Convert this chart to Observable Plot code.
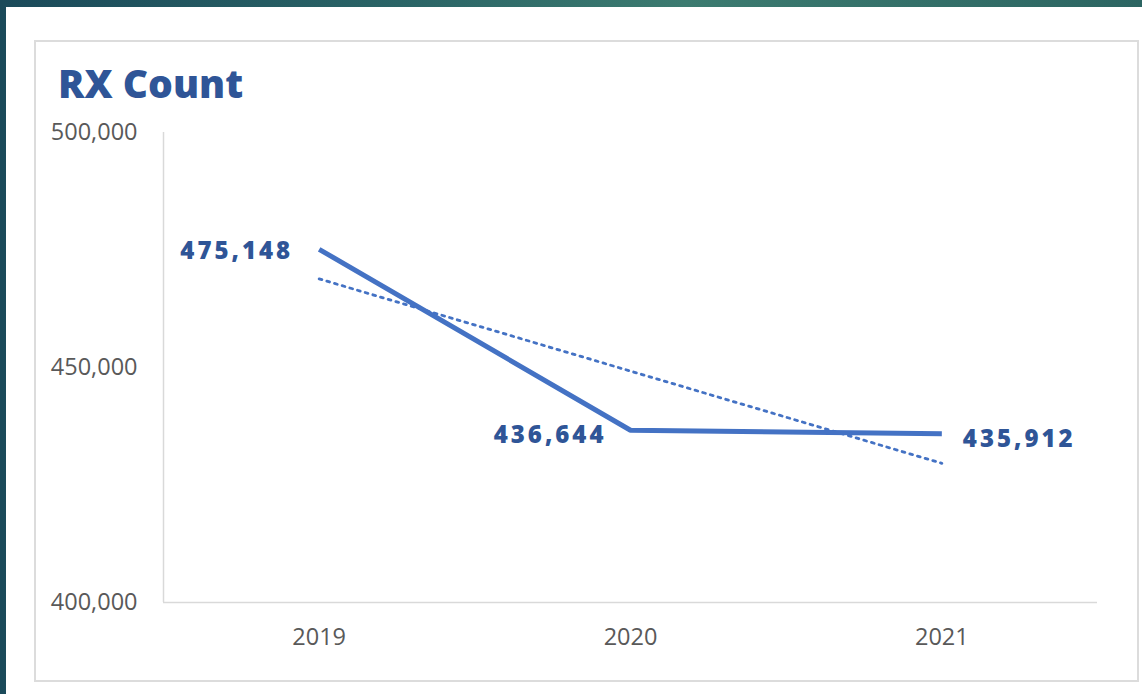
<!DOCTYPE html>
<html>
<head>
<meta charset="utf-8">
<script src="https://cdn.jsdelivr.net/npm/d3@7"></script>
<script src="https://cdn.jsdelivr.net/npm/@observablehq/plot@0.6"></script>
<style>
  html, body { margin: 0; padding: 0; }
  body {
    width: 1142px; height: 694px; position: relative; overflow: hidden;
    background: linear-gradient(90deg, #1b4a5a 0%, #2a6466 35%, #3c7b70 60%, #2c6562 100%);
    font-family: "Open Sans", sans-serif;
  }
  #sheet { position: absolute; left: 6px; top: 7px; right: 0; bottom: 0; background: #fff; }
  #card { position: absolute; left: 34px; top: 40px; width: 1101px; height: 638px;
          border: 2px solid #dcdcdc; background: #fff; }
  #title { position: absolute; left: 58px; top: 63px; margin: 0; font-size: 39px; font-weight: 800;
           color: #2f5597; letter-spacing: 0px; line-height: 1; }
  #chart { position: absolute; left: 0; top: 0; }
  #chart g[aria-label="text"] text { letter-spacing: 3px; }
</style>
</head>
<body>
<div id="sheet"></div>
<div id="card"></div>
<h1 id="title">RX Count</h1>
<div id="chart"></div>
<script>
const years = [2019, 2020, 2021];
const rxCounts = [475148, 436644, 435912];
const yTicks = [400000, 450000, 500000];

const table = years.map((year, i) => ({year, count: rxCounts[i]}));
const fmt = d3.format(",");
const labelColor = "#2f5597";
const lineColor = "#4472c4";

const labelMark = (i, opts) => Plot.text([table[i]], {
  x: "year", y: "count", text: d => fmt(d.count),
  fill: labelColor, fontWeight: 800, fontSize: 24, fontFamily: "Open Sans", ...opts
});

const plot = Plot.plot({
  width: 1142,
  height: 694,
  marginLeft: 163,
  marginRight: 45,
  marginTop: 132,
  marginBottom: 92,
  style: {background: "transparent", fontFamily: "Open Sans", fontSize: "23px", color: "#595959"},
  x: {domain: [2018.5, 2021.5], axis: null},
  y: {domain: [400000, 500000], axis: null},
  marks: [
    Plot.ruleX([2018.5], {stroke: "#d9d9d9", strokeWidth: 1.5}),
    Plot.ruleY([400000], {stroke: "#d9d9d9", strokeWidth: 1.5}),
    Plot.axisY({ticks: yTicks, tickFormat: fmt, tickSize: 0, tickPadding: 26, fontSize: 23.5, fill: "#595959", label: null}),
    Plot.axisX({ticks: years, tickFormat: d => String(d), tickSize: 0, tickPadding: 26, fontSize: 23.5, fill: "#595959", label: null}),
    Plot.linearRegressionY(table, {x: "year", y: "count", ci: 0, stroke: lineColor,
      strokeWidth: 2.8, strokeDasharray: "2.8,5.2"}),
    Plot.line(table, {x: "year", y: "count", stroke: lineColor, strokeWidth: 5, strokeLinejoin: "miter", strokeLinecap: "butt"}),
    labelMark(0, {textAnchor: "end", dx: -26, dy: 2}),
    labelMark(1, {textAnchor: "end", dx: -24, dy: 5}),
    labelMark(2, {textAnchor: "start", dx: 21, dy: 6})
  ]
});
document.getElementById("chart").appendChild(plot);
</script>
</body>
</html>
